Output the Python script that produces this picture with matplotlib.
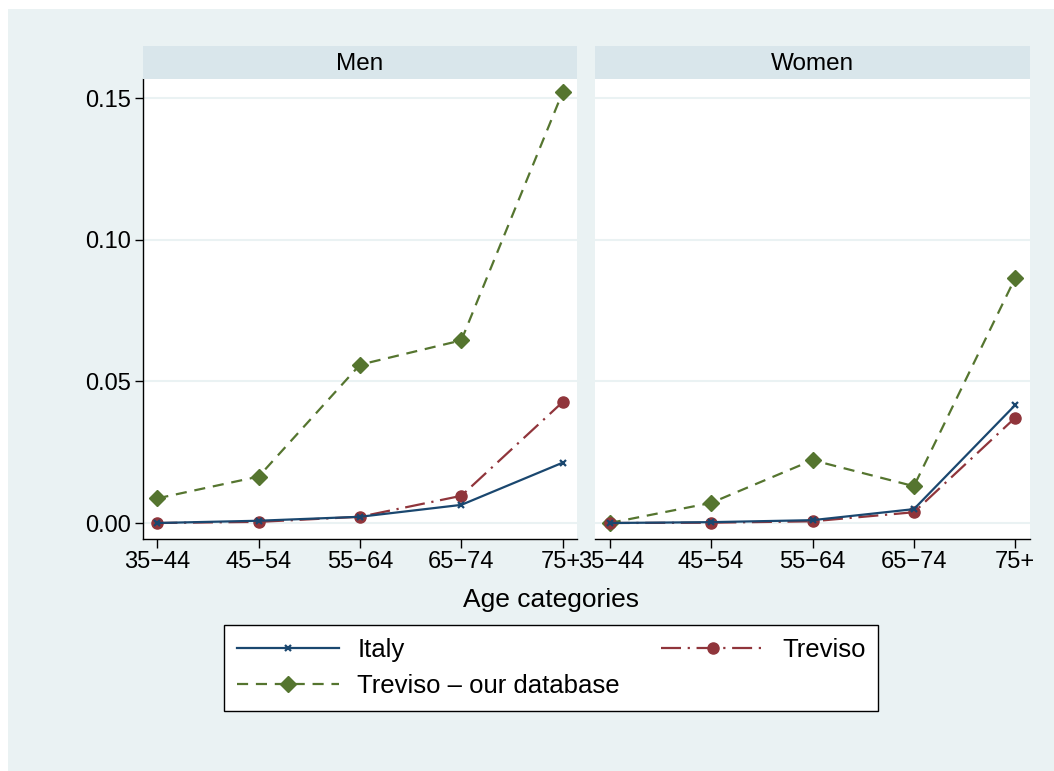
import matplotlib
matplotlib.use("Agg")
import matplotlib.pyplot as plt
import matplotlib.transforms as mtransforms
from matplotlib.patches import Rectangle

plt.rcParams['font.family'] = ['Liberation Sans', 'DejaVu Sans']

# Data: incidence by age group and sex
age_groups = ["35−44", "45−54", "55−64", "65−74", "75+"]
panel_titles = ["Men", "Women"]
series_labels = ["Italy", "Treviso", "Treviso – our database"]

italy_men = [0.0000, 0.0008, 0.0022, 0.0064, 0.0213]
treviso_men = [0.0000, 0.0004, 0.0022, 0.0096, 0.0427]
ourdb_men = [0.0087, 0.0164, 0.0559, 0.0645, 0.1521]

italy_women = [0.0000, 0.0003, 0.0010, 0.0049, 0.0417]
treviso_women = [0.0000, 0.0001, 0.0006, 0.0038, 0.0372]
ourdb_women = [0.0000, 0.0071, 0.0222, 0.0130, 0.0866]

yticks = [0.00, 0.05, 0.10, 0.15]
ytick_labels = ["0.00", "0.05", "0.10", "0.15"]

# Colours (Stata s2color look)
BG = "#EAF2F3"
STRIP = "#D9E6EB"
GRID = "#EAF2F3"
C_ITALY = "#1A476F"
C_TREVISO = "#90353B"
C_OURDB = "#55752F"

W, H = 1054, 771
fig = plt.figure(figsize=(W / 100, H / 100), dpi=100, facecolor="white")
fig.patches.append(Rectangle((8 / W, 0), (W - 8) / W, (H - 9) / H,
                             transform=fig.transFigure, facecolor=BG,
                             edgecolor="none", zorder=-10))

def fx(px):
    return px / W

def fy(py):
    return 1 - py / H

panel_x = [(142.7, 577.3), (595.0, 1030.0)]
top_px, bottom_px = 79.3, 539.0
strip_top = 46.0

panel_data = [
    (italy_men, treviso_men, ourdb_men),
    (italy_women, treviso_women, ourdb_women),
]

x = list(range(len(age_groups)))
handles = None
LW = 1.6

for i, ((x0, x1), title, (it, tv, od)) in enumerate(zip(panel_x, panel_titles, panel_data)):
    ax = fig.add_axes([fx(x0), fy(bottom_px), fx(x1 - x0), (bottom_px - top_px) / H])
    ax.set_facecolor("white")
    ax.set_xlim(-0.145, 4.145)
    ax.set_ylim(-0.00565, 0.1567)
    ax.set_yticks(yticks)
    for yv in yticks:
        ax.axhline(yv, color=GRID, lw=1.5, zorder=0)

    h_it, = ax.plot(x, it, color=C_ITALY, lw=LW, marker="x", markersize=5,
                    markeredgewidth=1.6, zorder=4)
    h_tv, = ax.plot(x, tv, color=C_TREVISO, lw=LW,
                    linestyle=(0, (9, 3, 1, 3)), marker="o", markersize=8,
                    zorder=3)
    h_od, = ax.plot(x, od, color=C_OURDB, lw=LW,
                    linestyle=(0, (5, 3.5)), marker="D", markersize=8,
                    zorder=2)
    handles = (h_it, h_tv, h_od)

    ax.set_xticks(x)
    ax.set_xticklabels(age_groups, fontsize=17)
    ax.tick_params(axis="x", length=6.5, width=1, pad=2.5, color="black")
    for s in ("top", "right"):
        ax.spines[s].set_visible(False)
    ax.spines["bottom"].set_color("black")
    ax.spines["bottom"].set_linewidth(1)
    if i == 0:
        ax.spines["left"].set_color("black")
        ax.spines["left"].set_linewidth(1)
        ax.set_yticklabels(ytick_labels, fontsize=17)
        ax.tick_params(axis="y", length=6, width=1, pad=2.5, color="black")
        # keep the last label clear of the neighbouring panel's first label
        edge = ax.get_xticklabels()[-1]
        edge.set_transform(edge.get_transform() +
                           mtransforms.ScaledTranslation(-2 / 100, 0, fig.dpi_scale_trans))
    else:
        ax.spines["left"].set_visible(False)
        ax.tick_params(axis="y", length=0, labelleft=False)
        edge = ax.get_xticklabels()[0]
        edge.set_transform(edge.get_transform() +
                           mtransforms.ScaledTranslation(2 / 100, 0, fig.dpi_scale_trans))

    # Panel header strip
    sax = fig.add_axes([fx(x0), fy(top_px), fx(x1 - x0), (top_px - strip_top) / H])
    sax.set_facecolor(STRIP)
    sax.set_xticks([])
    sax.set_yticks([])
    for s in sax.spines.values():
        s.set_visible(False)
    sax.text(0.5, 0.45, title, ha="center", va="center", fontsize=17.5,
             transform=sax.transAxes)

fig.text(fx(551), fy(600), "Age categories", ha="center", va="center", fontsize=19)

h_it, h_tv, h_od = handles
leg = fig.legend([h_it, h_od, h_tv],
                 [series_labels[0], series_labels[2], series_labels[1]],
                 loc="center", bbox_to_anchor=(fx(551), fy(668)),
                 ncol=2, fontsize=18.5, frameon=True, fancybox=False,
                 edgecolor="black", facecolor="white", framealpha=1,
                 handlelength=4.0, handletextpad=0.7, columnspacing=1.6,
                 labelspacing=0.5, borderpad=0.5)
leg.get_frame().set_linewidth(1)

fig.savefig("out.png", dpi=100, facecolor="white")
